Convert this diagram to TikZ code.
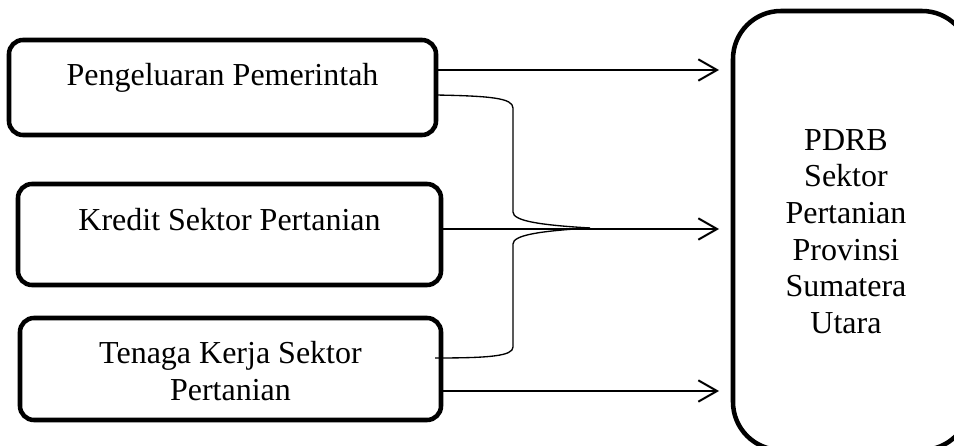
\documentclass[tikz,border=0pt]{standalone}
\usepackage{fontspec}
\setmainfont{Liberation Serif}
\usetikzlibrary{arrows.meta}
\begin{document}
\begin{tikzpicture}[x=0.75pt,y=-0.75pt,
  box/.style={draw, line width=3.4pt, rounded corners=10.5pt, inner sep=0pt, outer sep=0pt},
  lbl/.style={font=\fontsize{24pt}{27.5pt}\selectfont, align=center, inner sep=0pt},
  flow/.style={line width=1.5pt, -{Straight Barb[length=14pt,width=16pt]}, shorten >=10.5pt},
  bracket/.style={line width=1pt}]
\useasboundingbox (0,0) rectangle (954,446);
\clip (0,0) rectangle (954,446);

% input boxes
\node[box, minimum width=320.25pt, minimum height=71.25pt] (b1) at (222.5,87.5) {};
\node[box, minimum width=317.25pt, minimum height=75.75pt] (b2) at (229.5,234.5) {};
\node[box, minimum width=315.75pt, minimum height=76.5pt]  (b3) at (230.5,369) {};
% output box, running past the right and bottom edges
\node[box, rounded corners=36pt, minimum width=177.75pt, minimum height=329.25pt] (out) at (851.5,230.5) {};

% labels
\node[lbl, anchor=base] (t1) at (222.5,85) {Pengeluaran Pemerintah};
\node[lbl, anchor=base] (t2) at (229.5,230) {Kredit Sektor Pertanian};
\node[lbl] (t3) at (230.5,371) {Tenaga Kerja Sektor\\Pertanian};
\node[lbl] (t4) at (846,231.5) {PDRB\\Sektor\\Pertanian\\Provinsi\\Sumatera\\Utara};

% direct effects
\draw[flow] (b1.east |- 0,70)  -- (out.west |- 0,70);
\draw[flow] (b2.east |- 0,229) -- (out.west |- 0,229);
\draw[flow] (b3.east |- 0,391) -- (out.west |- 0,391);

% joint effect bracket
\coordinate (tip) at (590,228);
\coordinate (low) at (435,358);
\draw[bracket] (b1.east |- 0,95) .. controls (490,96) and (513,98) .. (513,108)
  -- (513,212) .. controls (513,221) and (540,225) .. (tip);
\draw[bracket] (low) .. controls (490,358) and (513,356) .. (513,347)
  -- (513,244) .. controls (513,235) and (540,231) .. (tip);
\end{tikzpicture}
\end{document}
